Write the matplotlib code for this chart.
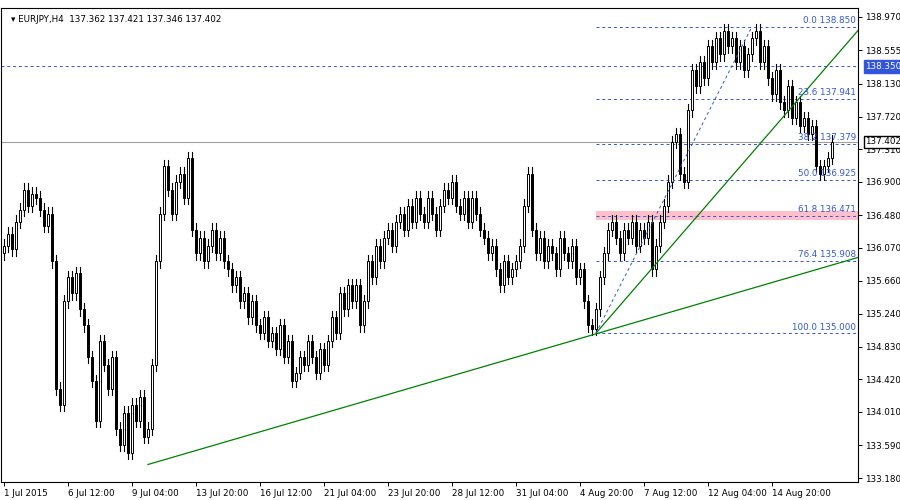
import numpy as np
import matplotlib.pyplot as plt
from matplotlib.patches import Rectangle

closes = [
    136.10, 136.25, 136.05, 136.40, 136.55, 136.80, 136.60, 136.75,
    136.70, 136.55, 136.35, 136.50, 135.90, 134.30, 134.10, 135.40,
    135.70, 135.50, 135.75, 135.30, 135.10, 134.70, 134.40, 133.90,
    134.90, 134.60, 134.30, 134.70, 133.80, 133.60, 134.00, 133.50,
    134.10, 133.90, 134.20, 133.70, 133.80, 134.60, 135.90, 136.50,
    137.10, 136.80, 136.50, 136.90, 137.00, 136.70, 137.20, 136.30,
    136.00, 136.20, 135.90, 136.10, 136.30, 136.00, 136.20, 135.90,
    135.80, 135.60, 135.70, 135.40, 135.50, 135.20, 135.40, 135.10,
    135.00, 135.20, 134.90, 135.00, 134.80, 135.10, 134.70, 134.90,
    134.40, 134.50, 134.70, 134.60, 134.90, 134.70, 134.50, 134.80,
    134.60, 134.90, 135.20, 135.00, 135.50, 135.30, 135.60, 135.40,
    135.60, 135.10, 135.40, 135.90, 135.70, 136.10, 135.90, 136.20,
    136.30, 136.10, 136.40, 136.50, 136.30, 136.60, 136.40, 136.70,
    136.50, 136.40, 136.70, 136.50, 136.30, 136.60, 136.80, 136.70,
    136.90, 136.60, 136.50, 136.70, 136.40, 136.70, 136.50, 136.30,
    136.20, 136.00, 136.10, 135.80, 135.60, 135.90, 135.70, 135.80,
    135.90, 136.10, 136.60, 137.00, 136.30, 136.00, 136.20, 135.90,
    136.10, 136.00, 135.80, 136.20, 136.00, 135.90, 136.10, 135.70,
    135.80, 135.40, 135.10, 135.05, 135.30, 135.70, 136.00, 136.30,
    136.40, 136.20, 136.00, 136.30, 136.20, 136.40, 136.10, 136.30,
    136.20, 136.40, 135.80, 136.10, 136.40, 136.60, 136.90, 137.40,
    137.50, 137.00, 136.90, 137.80, 138.30, 138.10, 138.40, 138.20,
    138.60, 138.40, 138.70, 138.50, 138.80, 138.60, 138.70, 138.40,
    138.60, 138.30, 138.50, 138.70, 138.80, 138.40, 138.60, 138.20,
    138.00, 138.30, 137.90, 137.80, 138.10, 137.70, 137.90, 137.60,
    137.70, 137.50, 137.60, 137.10, 137.00, 137.10, 137.20, 137.402,
]
first_open = 136.00
wick = 0.08

y_ticks = [138.970, 138.555, 138.130, 137.720, 137.310, 136.900, 136.480,
           136.070, 135.660, 135.240, 134.830, 134.420, 134.010, 133.590, 133.180]
x_labels = ["1 Jul 2015", "6 Jul 12:00", "9 Jul 04:00", "13 Jul 20:00", "16 Jul 12:00",
            "21 Jul 04:00", "23 Jul 20:00", "28 Jul 12:00", "31 Jul 04:00", "4 Aug 20:00",
            "7 Aug 12:00", "12 Aug 04:00", "14 Aug 20:00"]

fib_names = ["0.0", "23.6", "38.2", "50.0", "61.8", "76.4", "100.0"]
fib_prices = [138.850, 137.941, 137.379, 136.925, 136.471, 135.908, 135.000]
fib_start = (148, 135.000)
fib_end = (187, 138.850)
trend1 = [(36, 133.35), (213.5, 135.95)]
trend2 = [(148, 135.00), (213.5, 138.80)]
hline_price = 138.350
last_price = 137.402

fs = 6.3
fig = plt.figure(figsize=(9, 5), dpi=100)
ax = fig.add_axes([1 / 900, 18 / 500, 857 / 900, 474 / 500])
ax.set_xlim(-0.75, 213.5)
ax.set_ylim(133.13, 139.083)

# candles
opens = [first_open] + closes[:-1]
for i, (o, c) in enumerate(zip(opens, closes)):
    lo, hi = min(o, c), max(o, c)
    ax.plot([i, i], [lo - wick, hi + wick], color="black", lw=0.8, zorder=3)
    face = "white" if c >= o else "black"
    ax.add_patch(Rectangle((i - 0.35, lo), 0.7, max(hi - lo, 0.01),
                           facecolor=face, edgecolor="black", lw=0.7, zorder=4))

# trend lines
for t in (trend1, trend2):
    ax.plot([t[0][0], t[1][0]], [t[0][1], t[1][1]], color="green", lw=0.9, zorder=5)

# fibonacci
blue = "#3355dd"
ax.plot([fib_start[0], fib_end[0]], [fib_start[1], fib_end[1]], color=blue, lw=0.7,
        ls=(0, (3, 3)), zorder=5)
ax.add_patch(Rectangle((fib_start[0], 136.42), 213.5 - fib_start[0], 0.11,
                       facecolor="#ffc0cb", edgecolor="none", zorder=1))
for name, p in zip(fib_names, fib_prices):
    ax.plot([fib_start[0], 213.5], [p, p], color=blue, lw=0.7, ls=(0, (3, 3)), zorder=2)
    ax.text(213, p + 0.02, f"{name} {p:.3f}", color=blue, fontsize=fs, ha="right",
            va="bottom", zorder=6)

ax.axhline(hline_price, color=blue, lw=0.7, ls=(0, (3, 3)), zorder=2)
ax.axhline(last_price, color="#a0a0a0", lw=0.8, zorder=2)

# axes
ax.yaxis.tick_right()
ax.set_yticks(y_ticks)
ax.set_yticklabels([f"{v:.3f}" for v in y_ticks], fontsize=fs)
ax.set_xticks(range(0, 16 * len(x_labels), 16))
ax.set_xticklabels(x_labels, fontsize=fs, ha="left")
ax.tick_params(length=3, width=0.7, pad=2)
for s in ax.spines.values():
    s.set_linewidth(0.8)

ax.text(215.3, hline_price, f"{hline_price:.3f}", fontsize=fs, color="white", va="center",
        ha="left", bbox=dict(facecolor=blue, edgecolor=blue, pad=1.2), clip_on=False)
ax.text(215.3, last_price, f"{last_price:.3f}", fontsize=fs, color="black", va="center",
        ha="left", bbox=dict(facecolor="white", edgecolor="black", pad=1.2), clip_on=False)

ax.text(0.012, 0.985, "\u25be EURJPY,H4  137.362 137.421 137.346 137.402", fontsize=fs,
        transform=ax.transAxes, va="top", ha="left")

fig.savefig("out.png", dpi=100)
